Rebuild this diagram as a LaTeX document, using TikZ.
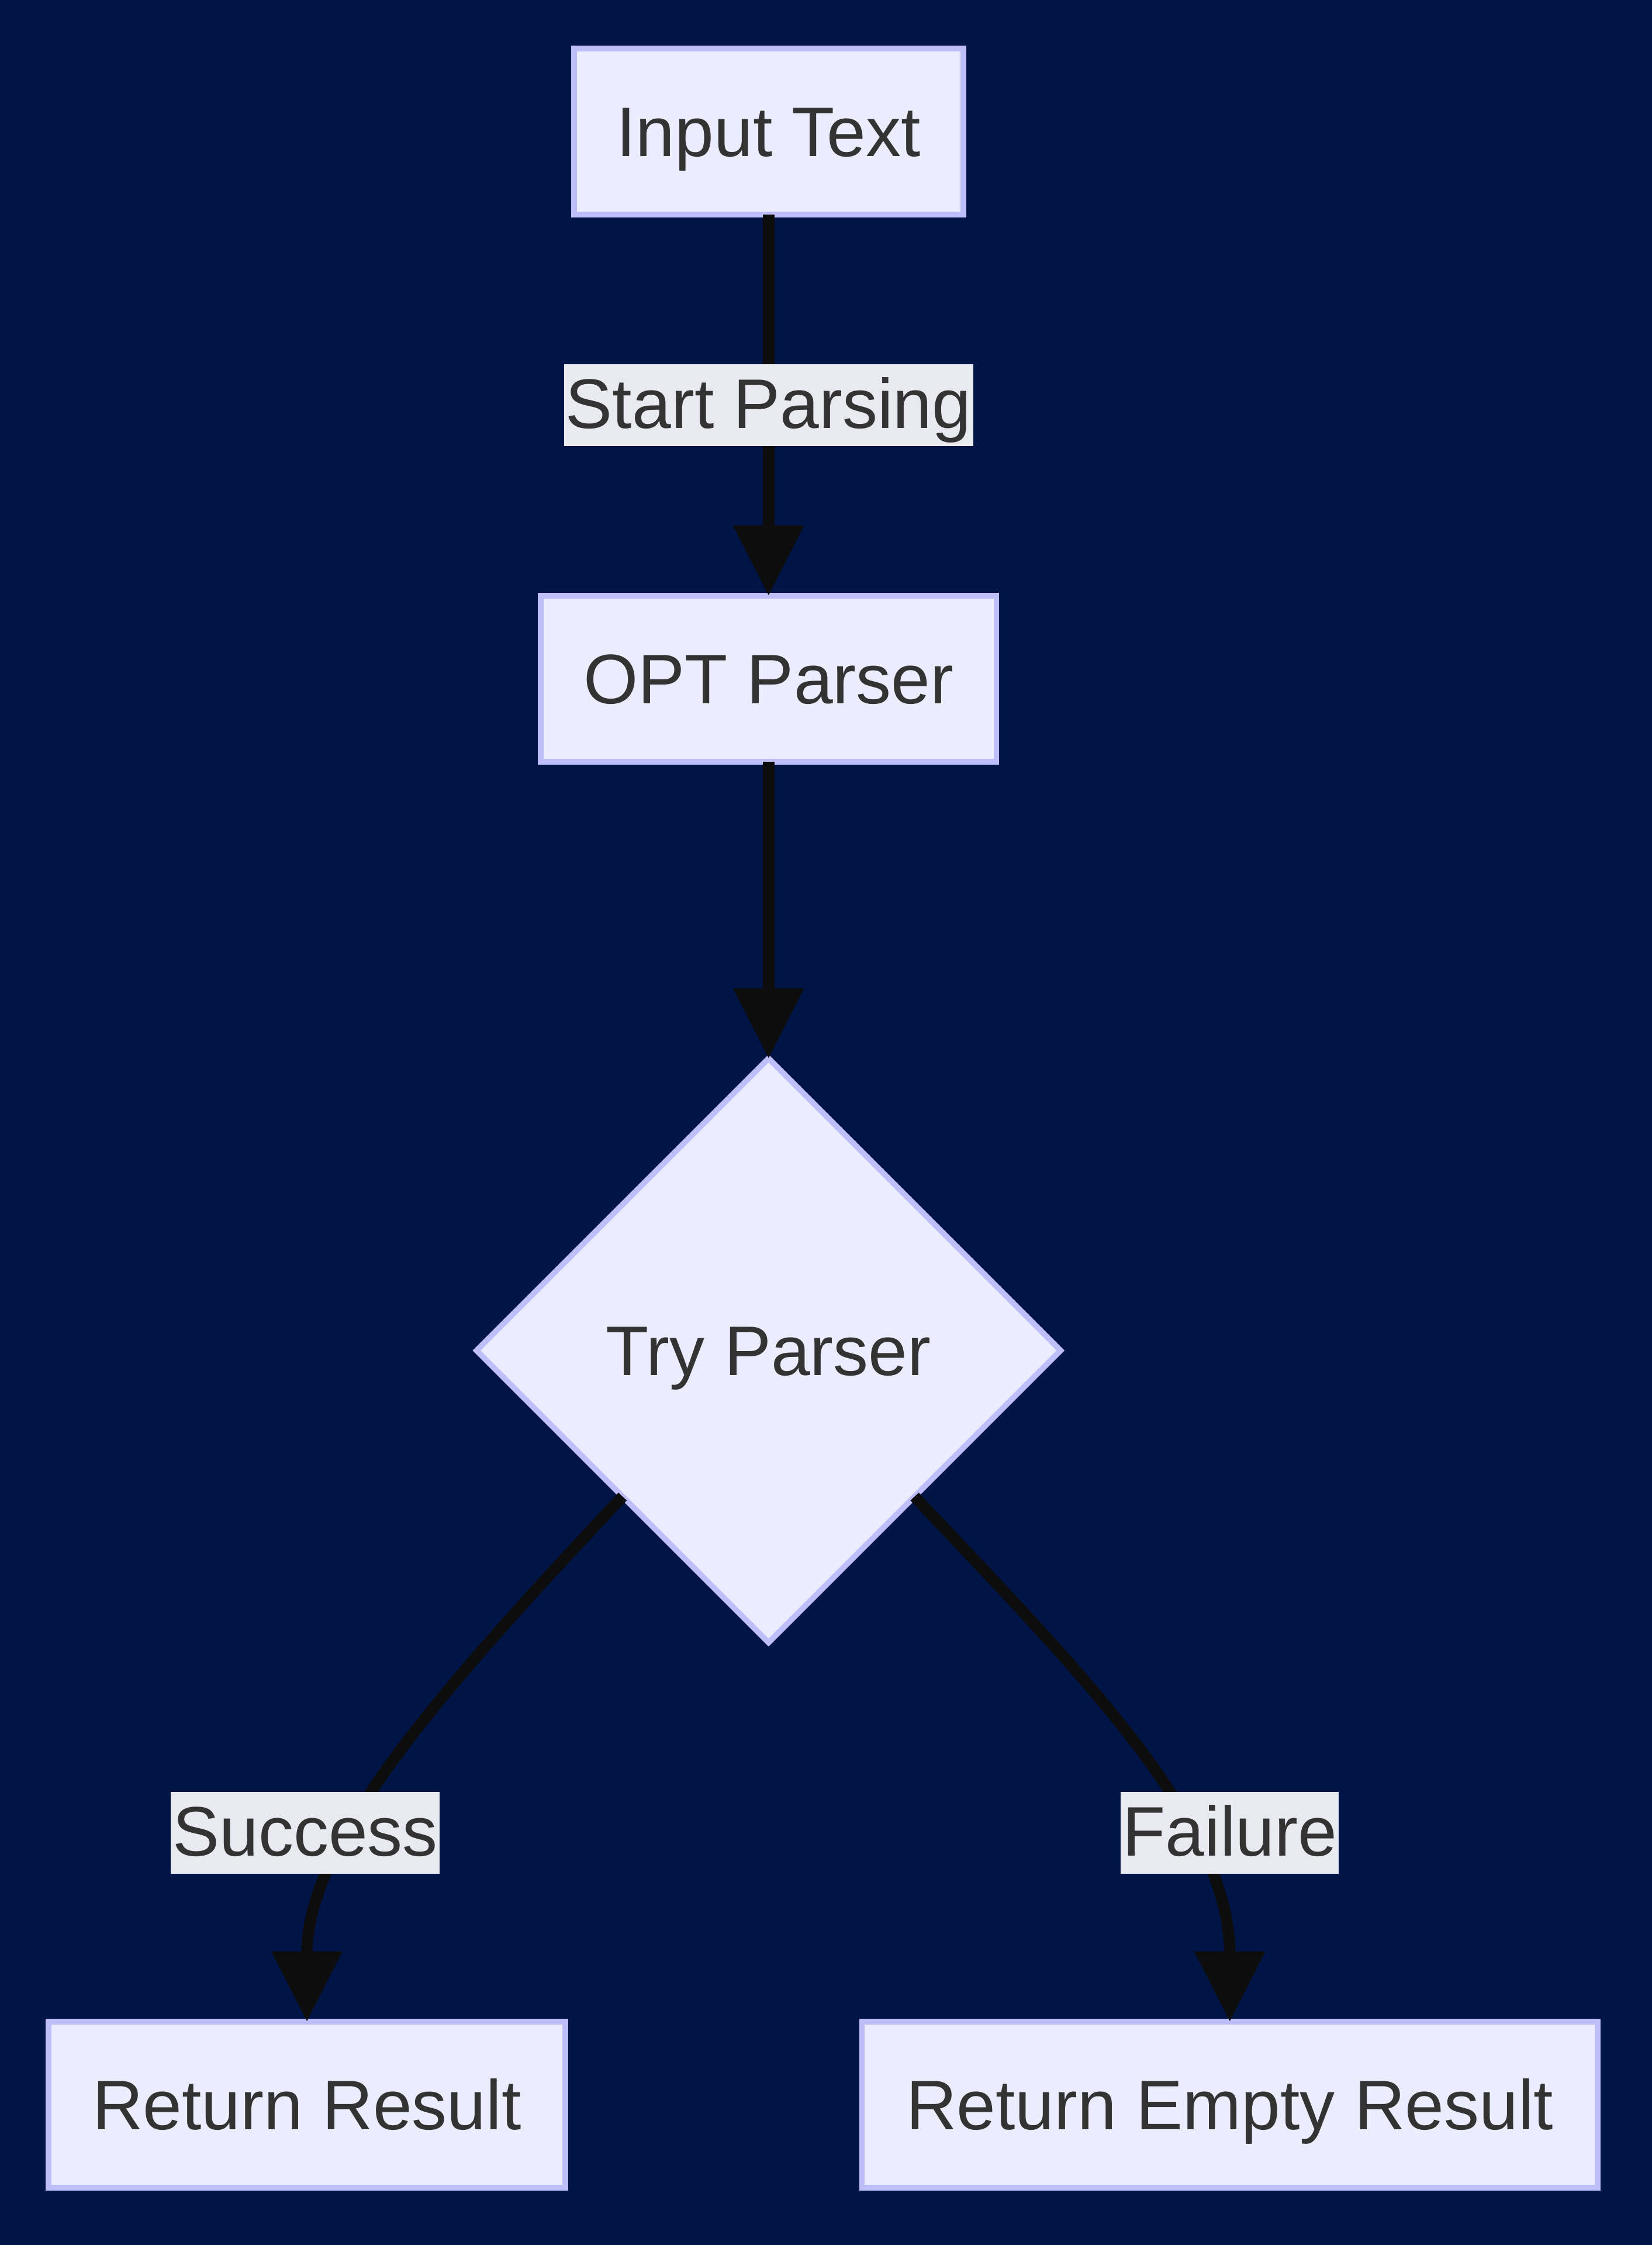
\documentclass[tikz,border=0pt]{standalone}
\usepackage{fontspec}
\setmainfont{Liberation Sans}
\usetikzlibrary{shapes.geometric,arrows.meta}

\definecolor{bgnavy}{RGB}{0,20,70}
\definecolor{nodefill}{RGB}{236,236,255}
\definecolor{nodeline}{RGB}{190,190,250}
\definecolor{labelfill}{RGB}{233,234,241}
\definecolor{textgrey}{RGB}{51,51,51}
\definecolor{edgeblack}{RGB}{13,13,13}

\tikzset{
  box/.style={draw=nodeline, fill=nodefill, line width=1.3pt, minimum height=37.9pt,
    inner sep=0pt, outer sep=0pt, text=textgrey, text height=14.8pt, text depth=3.6pt,
    font=\fontsize{16}{19}\selectfont},
  decision/.style={box, diamond, aspect=1, minimum width=133.2pt, minimum height=133.2pt},
  elabel/.style={fill=labelfill, text=textgrey, inner xsep=0.4pt, inner ysep=0pt,
    text height=14.4pt, text depth=3.8pt, minimum height=18.6pt,
    font=\fontsize{16}{19}\selectfont},
  edge/.style={draw=edgeblack, line width=2.6pt, -{Triangle[width=15.5pt,length=16pt]}}
}

\begin{document}
\begin{tikzpicture}[x=1pt, y=-1pt]
    \fill[bgnavy] (0,0) rectangle (376.8,512);

    \node[box, minimum width=88.8pt]  (A) at (175.3,30)    {Input Text};
    \node[box, minimum width=103.9pt] (B) at (175.3,154.8) {OPT Parser};
    \node[decision]                   (C) at (175.3,308)   {Try Parser};
    \node[box, minimum width=117.9pt] (D) at (70,480)      {Return Result};
    \node[box, minimum width=167.8pt] (E) at (280.5,480)   {Return Empty Result};

    \draw[edge] (A) -- node[elabel] {Start Parsing} (B);
    \draw[edge] (B) -- (C);
    \draw[edge] (C.-135) .. controls (100,386) and (70,420) .. (D.north)
      node[elabel] at (69.6,418) {Success};
    \draw[edge] (C.-45) .. controls (245,380) and (280.5,415) .. (E.north)
      node[elabel] at (280.5,418) {Failure};
  \end{tikzpicture}
\end{document}
